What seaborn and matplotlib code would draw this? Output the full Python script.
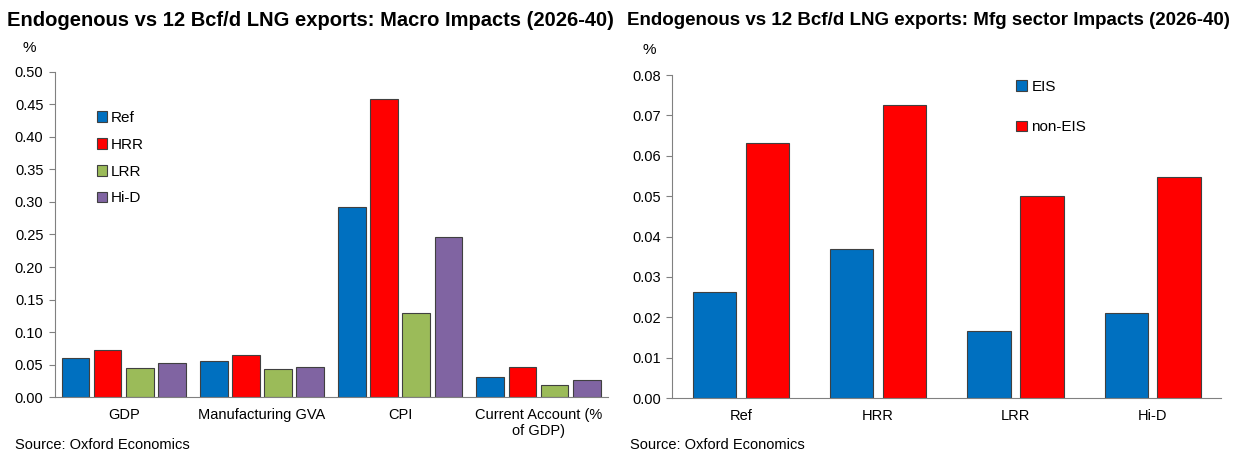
import pandas as pd
import matplotlib.pyplot as plt
import seaborn as sns

# Data
macro_kategorier = ["GDP", "Manufacturing GVA", "CPI", "Current Account (%\nof GDP)"]
scenarier = ["Ref", "HRR", "LRR", "Hi-D"]
ref_varden = [0.060, 0.055, 0.292, 0.031]
hrr_varden = [0.072, 0.065, 0.458, 0.047]
lrr_varden = [0.045, 0.043, 0.129, 0.018]
hid_varden = [0.052, 0.047, 0.246, 0.026]

sektorer = ["EIS", "non-EIS"]
eis_varden = [0.0263, 0.0369, 0.0166, 0.0211]
non_eis_varden = [0.0632, 0.0727, 0.0500, 0.0547]

macro_farger = ["#0070C0", "#FF0000", "#9BBB59", "#8064A2"]
sektor_farger = ["#0070C0", "#FF0000"]

sns.set_style("ticks")
plt.rcParams["font.family"] = ["Liberation Sans", "DejaVu Sans"]
plt.rcParams["text.color"] = "black"
plt.rcParams["xtick.labelcolor"] = "black"
plt.rcParams["ytick.labelcolor"] = "black"

macro_df = pd.DataFrame({
    "Kategori": macro_kategorier * 4,
    "Värde": ref_varden + hrr_varden + lrr_varden + hid_varden,
    "Scenario": [s for s in scenarier for _ in macro_kategorier],
})
sektor_df = pd.DataFrame({
    "Scenario": scenarier * 2,
    "Värde": eis_varden + non_eis_varden,
    "Sektor": [s for s in sektorer for _ in scenarier],
})

fig = plt.figure(figsize=(12.4, 4.58), dpi=100)
ax1 = fig.add_axes([0.044, 0.133, 0.446, 0.710])
ax2 = fig.add_axes([0.542, 0.131, 0.443, 0.705])

sns.barplot(data=macro_df, x="Kategori", y="Värde", hue="Scenario",
            palette=macro_farger, saturation=1, width=0.93, gap=0.14, ax=ax1,
            edgecolor="#404040", linewidth=0.8)
sns.barplot(data=sektor_df, x="Scenario", y="Värde", hue="Sektor",
            palette=sektor_farger, saturation=1, width=0.77, gap=0.18, ax=ax2,
            edgecolor="#404040", linewidth=0.8)

ax1.set_ylim(0, 0.5)
ax1.set_yticks([i * 0.05 for i in range(11)])
ax1.set_yticklabels([f"{i * 0.05:.2f}" for i in range(11)])
ax2.set_ylim(0, 0.08)
ax2.set_yticks([i * 0.01 for i in range(9)])
ax2.set_yticklabels([f"{i * 0.01:.2f}" for i in range(9)])

for ax in [ax1, ax2]:
    ax.set_xlabel("")
    ax.set_ylabel("")
    sns.despine(ax=ax)
    ax.spines["left"].set_color("#808080")
    ax.spines["bottom"].set_color("#808080")
    ax.tick_params(axis="y", length=4, color="#808080", labelsize=10.5, pad=4)
    ax.tick_params(axis="x", length=0, labelsize=10.5, pad=8)

ax1.legend(loc="upper left", bbox_to_anchor=(0.065, 0.90), frameon=False,
           fontsize=11, handlelength=0.7, handleheight=0.7, handletextpad=0.2,
           labelspacing=0.85, borderaxespad=0)
ax2.legend(loc="upper left", bbox_to_anchor=(0.615, 1.005), frameon=False,
           fontsize=11, handlelength=0.7, handleheight=0.7, handletextpad=0.3,
           labelspacing=1.75, borderaxespad=0)

fig.text(0.006, 0.955, "Endogenous vs 12 Bcf/d LNG exports: Macro Impacts (2026-40)",
         fontsize=14.5, fontweight="bold", ha="left", va="center")
fig.text(0.506, 0.955, "Endogenous vs 12 Bcf/d LNG exports: Mfg sector Impacts (2026-40)",
         fontsize=13.5, fontweight="bold", ha="left", va="center")
fig.text(0.018, 0.895, "%", fontsize=11, ha="left", va="center")
fig.text(0.518, 0.890, "%", fontsize=11, ha="left", va="center")
fig.text(0.012, 0.028, "Source: Oxford Economics", fontsize=10.5, ha="left", va="center")
fig.text(0.508, 0.028, "Source: Oxford Economics", fontsize=10.5, ha="left", va="center")

plt.savefig("out.png", dpi=100, facecolor="white")
